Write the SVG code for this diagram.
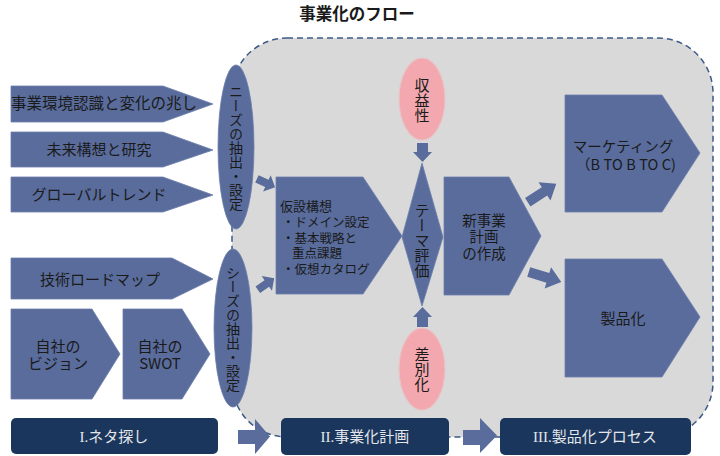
<svg xmlns="http://www.w3.org/2000/svg" width="720" height="456" viewBox="0 0 720 456">
<style>
text{font-family:"Noto Sans CJK JP","Noto Sans",sans-serif;fill:#1a1a1a}
.shape{fill:#596c9c;stroke:#6d7fab;stroke-width:0.8}
.pink{fill:#f2a8ae;stroke:#e9c4c7;stroke-width:1.2}
.navy{fill:#1b365d}
.lbl{font-size:15px;text-anchor:middle}
.vert{writing-mode:vertical-rl;text-anchor:middle;font-size:14px}
.bt{font-size:15px;text-anchor:middle;fill:#e4e6ea}
.serif{font-family:"Liberation Serif",serif;fill:#e4e6ea}
.arr{fill:#596c9c}
</style>
<defs>
<path id="sa" d="M-10,-4 L1,-4 L1,-9 L10,0 L1,9 L1,4 L-10,4 Z"/>
<path id="ma" d="M-17,-5 L3,-5 L3,-11 L17,0 L3,11 L3,5 L-17,5 Z"/>
</defs>

<text x="357" y="20" style="font-size:16.5px;font-weight:bold;text-anchor:middle">事業化のフロー</text>

<rect id="frame" x="232" y="38" width="481" height="399" rx="55" ry="55" fill="#d9d9d9" stroke="#3d5a87" stroke-width="1.5" stroke-dasharray="6,4"/>

<g id="n-env"><polygon class="shape" points="11,86 163,86 213,104 163,122 11,122"/><text class="lbl" x="104" y="109" style="font-size:15.5px">事業環境認識と変化の兆し</text></g>
<g id="n-future"><polygon class="shape" points="11,132 163,132 213,150 163,167 11,167"/><text class="lbl" x="99" y="155">未来構想と研究</text></g>
<g id="n-global"><polygon class="shape" points="11,177 163,177 213,195 163,212 11,212"/><text class="lbl" x="99" y="200">グローバルトレンド</text></g>
<g id="n-tech"><polygon class="shape" points="11,258 172,258 213,279 172,299 11,299"/><text class="lbl" x="100" y="285">技術ロードマップ</text></g>
<g id="n-vision"><polygon class="shape" points="11,309 92,309 120,354 92,399 11,399"/><text class="lbl" x="58" y="352">自社の</text><text class="lbl" x="58" y="369">ビジョン</text></g>
<g id="n-swot"><polygon class="shape" points="123,309 182,309 210,354 182,399 123,399"/><text class="lbl" x="160" y="352">自社の</text><text class="lbl" x="160" y="369">SWOT</text></g>

<g id="n-needs"><ellipse class="shape" cx="236" cy="147" rx="18" ry="82"/><text class="vert" x="236" y="148">ニーズの抽出・設定</text></g>
<g id="n-seeds"><ellipse class="shape" cx="233" cy="328" rx="19" ry="79"/><text class="vert" x="233" y="329">シーズの抽出・設定</text></g>

<g id="n-hypo"><polygon class="shape" points="276,177 363,177 402,236 363,294 276,294"/>
<text x="280" y="211" style="font-size:13px">仮設構想</text>
<text x="282" y="227" style="font-size:12.5px">・ドメイン設定</text>
<text x="282" y="243" style="font-size:12.5px">・基本戦略と</text>
<text x="292" y="258" style="font-size:12.5px">重点課題</text>
<text x="282" y="274" style="font-size:12.5px">・仮想カタログ</text></g>

<g id="n-theme"><polygon class="shape" points="422,163 443,237 422,306 402,237"/><text class="vert" x="422" y="240" style="font-size:15px">テーマ評価</text></g>

<g id="n-profit"><ellipse class="pink" cx="422" cy="99" rx="23" ry="41"/><text class="vert" x="422" y="100" style="font-size:15px">収益性</text></g>
<g id="n-diff"><ellipse class="pink" cx="422" cy="369" rx="23" ry="41"/><text class="vert" x="422" y="369" style="font-size:15px">差別化</text></g>

<g id="n-plan"><polygon class="shape" points="444,177 509,177 541,236 509,295 444,295"/>
<text class="lbl" x="484" y="226" style="font-size:14.5px">新事業</text>
<text class="lbl" x="484" y="242" style="font-size:14.5px">計画</text>
<text class="lbl" x="484" y="259" style="font-size:14.5px">の作成</text></g>

<g id="n-mkt"><polygon class="shape" points="565,95 662,95 700,153 662,212 565,212"/>
<text class="lbl" x="623" y="152" style="font-size:14.5px">マーケティング</text>
<text class="lbl" x="626" y="170" style="font-size:14.5px" textLength="100" lengthAdjust="spacing">（B TO B TO C)</text></g>
<g id="n-prod"><polygon class="shape" points="565,259 662,259 700,317 662,377 565,377"/><text class="lbl" x="623" y="324">製品化</text></g>

<g id="n-phase1"><rect class="navy" x="11" y="418" width="207" height="36" rx="5"/><text class="bt" x="114" y="442"><tspan class="serif">I.</tspan>ネタ探し</text></g>
<g id="n-phase2"><rect class="navy" x="281" y="418" width="168" height="37" rx="5"/><text class="bt" x="365" y="442"><tspan class="serif">II.</tspan>事業化計画</text></g>
<g id="n-phase3"><rect class="navy" x="500" y="418" width="191" height="37" rx="5"/><text class="bt" x="595" y="442"><tspan class="serif">III.</tspan>製品化プロセス</text></g>

<g id="connectors" class="arr">
<use href="#sa" transform="translate(266,183) rotate(25)"/>
<use href="#sa" transform="translate(266,284) rotate(-35)"/>
<path d="M417,143 L428,143 L428,152 L432,152 L422.5,162 L413,152 L417,152 Z"/>
<path d="M417,327 L428,327 L428,317 L432,317 L422.5,307 L413,317 L417,317 Z"/>
<use href="#ma" transform="translate(542,193) rotate(-33)"/>
<use href="#ma" transform="translate(545,277) rotate(17)"/>
<path d="M238,430 L255,430 L255,419 L270,436.5 L255,454 L255,444 L238,444 Z"/>
<path d="M463,430 L480,430 L480,418 L497,435.5 L480,453 L480,445 L463,445 Z"/>
</g>
</svg>
